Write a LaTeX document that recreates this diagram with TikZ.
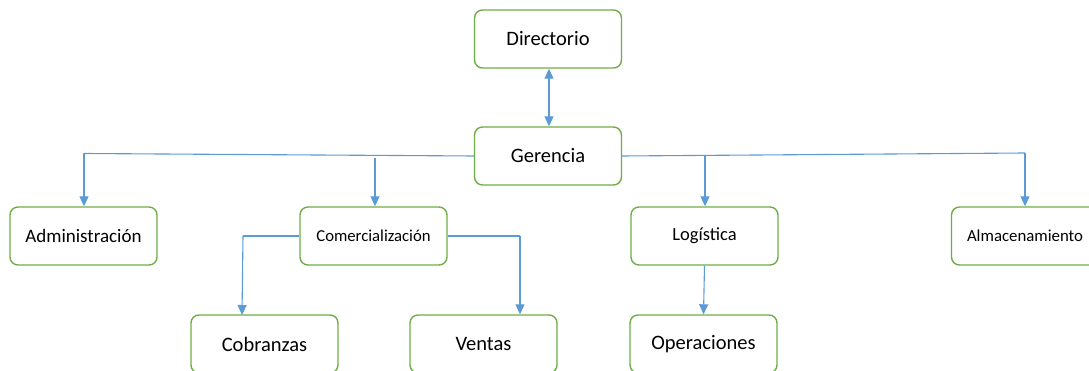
\documentclass[tikz,border=0pt]{standalone}
\usepackage{fontspec}
\setmainfont{Carlito}
\usetikzlibrary{arrows.meta}
\definecolor{boxgreen}{RGB}{112,173,71}
\definecolor{lineblue}{RGB}{91,155,213}
\begin{document}
\begin{tikzpicture}[x=1pt,y=-1pt,
  orgbox/.style={draw=boxgreen,line width=1.4pt,rounded corners=8pt,
    minimum width=147pt,minimum height=58pt,inner sep=0pt,fill=white},
  conn/.style={draw=lineblue,line width=1.1pt},
  arr/.style={conn,-{Triangle[length=10pt,width=9pt]}},
  darr/.style={conn,{Triangle[length=10pt,width=9pt]}-{Triangle[length=10pt,width=9pt]}}]
\useasboundingbox (0,0) rectangle (1089,371);
\node[orgbox,font=\fontsize{20.5}{24}\selectfont] (dir) at (548,39) {Directorio};
\node[orgbox,font=\fontsize{20.5}{24}\selectfont] (ger) at (548,156) {Gerencia};
\node[orgbox,font=\fontsize{19}{22}\selectfont] (adm) at (83.5,236) {Administración};
\node[orgbox,font=\fontsize{16.7}{20}\selectfont] (com) at (373.5,236) {Comercialización};
\node[orgbox,font=\fontsize{18.5}{21}\selectfont] (log) at (704.5,236) {Logística};
\node[orgbox,font=\fontsize{16.8}{19}\selectfont] (alm) at (1025,236) {Almacenamiento};
\node[orgbox,font=\fontsize{20.5}{24}\selectfont] (cob) at (264.5,344) {Cobranzas};
\node[orgbox,font=\fontsize{20.5}{24}\selectfont] (ven) at (483.5,344) {Ventas};
\node[orgbox,font=\fontsize{20.5}{24}\selectfont] (ope) at (703.5,344) {Operaciones};
\coordinate (jl) at (84,153.5);
\coordinate (jc) at (375,158);
\coordinate (jg) at (705,156);
\coordinate (jr) at (1025,153);
\coordinate (jcl) at (243,236);
\coordinate (jcr) at (520,236);
\draw[darr] (dir.south -| 549,0) -- (ger.north -| 549,0);
\draw[conn] (ger.west) -- (jl);
\draw[arr] (jl) -- (jl |- adm.north);
\draw[arr] (jc) -- (jc |- com.north);
\draw[conn] (ger.east) -- (jr);
\draw[arr] (jg) -- (jg |- log.north);
\draw[arr] (jr) -- (jr |- alm.north);
\draw[conn] (com.west) -- (jcl);
\draw[arr] (jcl) -- (242,315);
\draw[conn] (com.east) -- (jcr);
\draw[arr] (jcr) -- (jcr |- ven.north);
\draw[arr] (log.south) -- (ope.north);
\end{tikzpicture}
\end{document}
